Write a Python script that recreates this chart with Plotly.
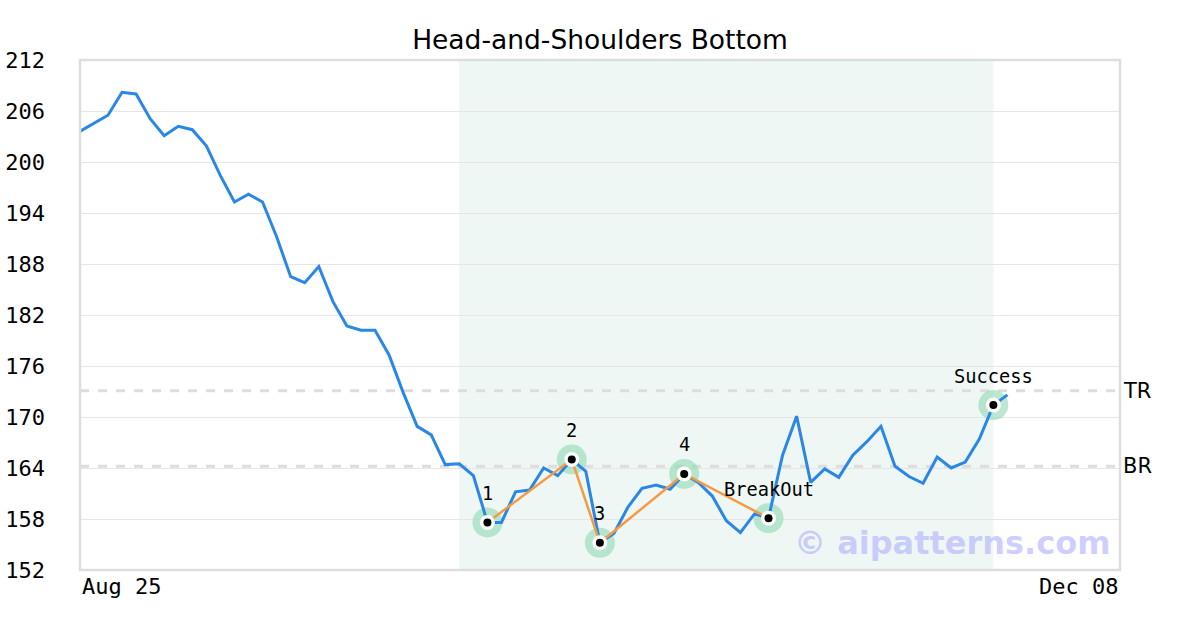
import plotly.graph_objects as go

title = "Head-and-Shoulders Bottom"
prices = [203.6, 204.5, 205.5, 208.2, 208.0, 205.1, 203.1, 204.2, 203.8, 201.9,
          198.4, 195.3, 196.2, 195.3, 191.2, 186.5, 185.8, 187.7, 183.6, 180.7,
          180.2, 180.2, 177.3, 172.9, 168.9, 167.9, 164.4, 164.5, 163.1, 157.6,
          157.6, 161.2, 161.4, 164.0, 163.1, 165.0, 163.6, 155.2, 156.3, 159.4,
          161.6, 162.0, 161.5, 163.3, 162.3, 160.7, 157.8, 156.4, 158.6, 158.1,
          165.5, 170.1, 162.3, 163.9, 162.9, 165.5, 167.1, 168.9, 164.2, 163.0,
          162.2, 165.3, 164.0, 164.7, 167.4, 171.4, 172.6]
pattern_idx = [29, 35, 37, 43, 49]
pattern_vals = [157.6, 165.0, 155.2, 163.3, 158.1]
pattern_labels = ["1", "2", "3", "4", "BreakOut"]
success_idx = 65
success_val = 171.4
success_label = "Success"
tr_level = 173.1
br_level = 164.2
level_labels = ["TR", "BR"]
zone = [27, 65]
x_tick_labels = ["Aug 25", "Dec 08"]
x_max = 73.95
y_ticks = [152, 158, 164, 170, 176, 182, 188, 194, 200, 206, 212]

x = list(range(len(prices)))
OFF = -0.06

fig = go.Figure()

fig.add_vrect(x0=zone[0] + OFF, x1=zone[1] + OFF, fillcolor="#eef7f3", line_width=0, layer="below")

for lvl in (tr_level, br_level):
    fig.add_shape(type="line", xref="paper", x0=0, x1=1, y0=lvl, y1=lvl,
                  line=dict(color="#dddddd", width=3, dash="dash"), layer="below")

mx = [i + OFF for i in pattern_idx] + [success_idx + OFF]
my = pattern_vals + [success_val]
fig.add_trace(go.Scatter(x=mx, y=my, mode="markers", hoverinfo="skip",
                         marker=dict(size=30, color="rgba(140,215,175,0.58)", line_width=0)))

fig.add_trace(go.Scatter(x=[i + OFF for i in x], y=prices, mode="lines",
                         line=dict(color="#2b87e6", width=3), hoverinfo="skip"))
fig.add_trace(go.Scatter(x=[i + OFF for i in pattern_idx], y=pattern_vals, mode="lines",
                         line=dict(color="#f59a45", width=2.5), hoverinfo="skip"))

fig.add_trace(go.Scatter(x=mx, y=my, mode="markers", hoverinfo="skip",
                         marker=dict(size=15, color="white", line_width=0)))
fig.add_trace(go.Scatter(x=mx, y=my, mode="markers", hoverinfo="skip",
                         marker=dict(size=8, color="black", line_width=0)))

for xi, yi, lab in zip(mx, my, pattern_labels + [success_label]):
    fig.add_annotation(x=xi, y=yi, text=lab, showarrow=False, yshift=29,
                       font=dict(family="DejaVu Sans Mono", size=18.7, color="black"))

for lvl, lab in zip((tr_level, br_level), level_labels):
    fig.add_annotation(xref="paper", x=1.0, y=lvl, text=lab, showarrow=False,
                       xanchor="left", xshift=1,
                       font=dict(family="DejaVu Sans", size=21, color="black"))

fig.add_annotation(xref="x", yref="paper", x=-0.05, y=0, text=x_tick_labels[0],
                   showarrow=False, xanchor="left", yanchor="top", yshift=-2,
                   font=dict(family="DejaVu Sans Mono", size=22, color="black"))
fig.add_annotation(xref="x", yref="paper", x=x_max, y=0, text=x_tick_labels[1],
                   showarrow=False, xanchor="right", yanchor="top", yshift=-2,
                   font=dict(family="DejaVu Sans Mono", size=22, color="black"))

fig.add_annotation(xref="paper", yref="paper", x=0.993, y=0.053, text="© aipatterns.com",
                   showarrow=False, xanchor="right", yanchor="middle",
                   font=dict(family="DejaVu Sans", size=32, color="rgba(175,175,255,0.6)", weight="bold"))

fig.add_shape(type="rect", xref="paper", yref="paper", x0=0, x1=1, y0=0, y1=1,
              line=dict(color="#dddddd", width=2.5), layer="above")

fig.update_layout(
    width=1200, height=630,
    margin=dict(l=80, r=80, t=60, b=60, autoexpand=False),
    paper_bgcolor="white", plot_bgcolor="white",
    showlegend=False,
    title=dict(text=title, x=0.5, xanchor="center", y=1 - 40 / 630, yanchor="middle",
               yref="container", xref="container",
               font=dict(family="DejaVu Sans", size=26.5, color="black")),
    xaxis=dict(range=[-0.05, x_max], showgrid=False, zeroline=False, automargin=False,
               showticklabels=False, showline=False, fixedrange=True),
    yaxis=dict(range=[152, 212], tickvals=y_ticks, showgrid=True, gridcolor="#e6e6e6",
               gridwidth=1, zeroline=False, showline=False, automargin=False,
               ticklabelstandoff=34,
               tickfont=dict(family="DejaVu Sans Mono", size=22, color="black")),
)

fig.write_html("out.html", config={"displayModeBar": False},
               post_script="document.body.style.margin='0px';")
